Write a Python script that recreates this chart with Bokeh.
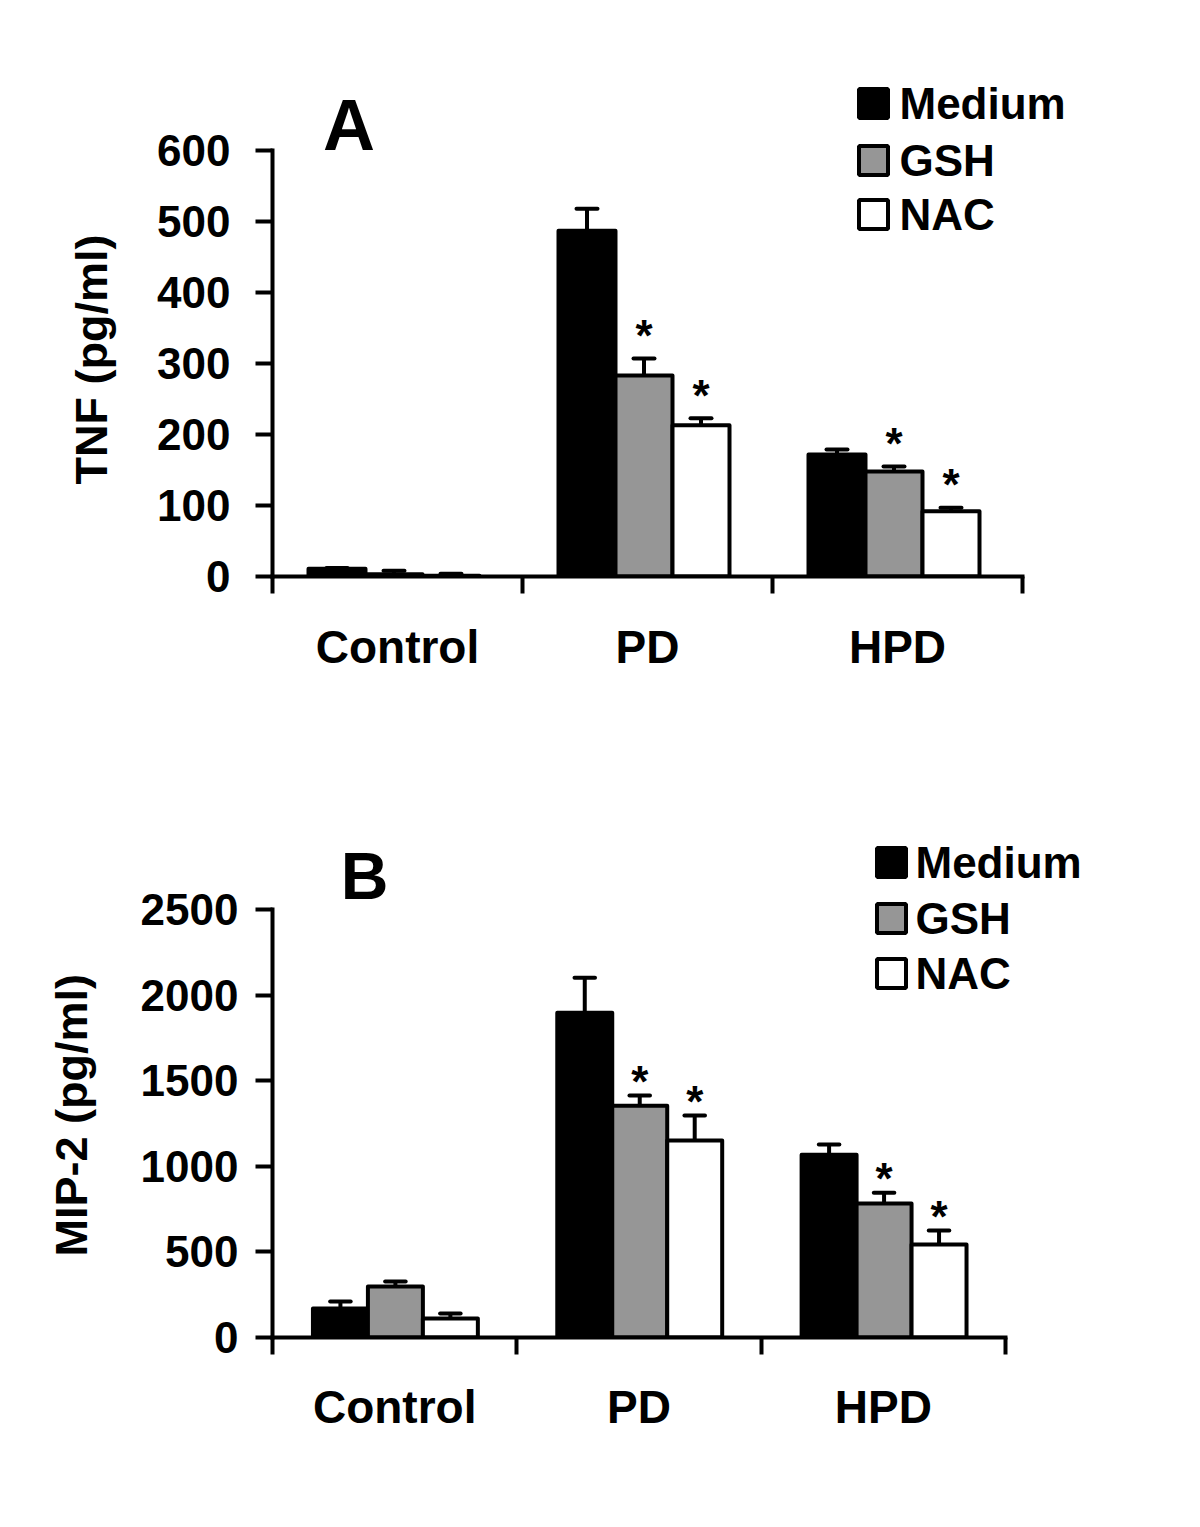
from bokeh.plotting import figure
from bokeh.layouts import column
from bokeh.models import FixedTicker, Range1d, Title
from bokeh.embed import file_html
from bokeh.resources import INLINE
from bokeh.core.properties import value

# ---------------- data ----------------
categories = ["Control", "PD", "HPD"]
series = ["Medium", "GSH", "NAC"]
colors = ["#000000", "#969696", "#ffffff"]

# Panel A: TNF (pg/ml)
tnf_medium = [11, 487, 172]
tnf_medium_err = [1, 31, 7]
tnf_gsh = [3, 283, 148]
tnf_gsh_err = [5, 24, 7]
tnf_nac = [1, 213, 92]
tnf_nac_err = [3, 10, 5]
tnf_gsh_sig = [False, True, True]
tnf_nac_sig = [False, True, True]
tnf_ticks = [0, 100, 200, 300, 400, 500, 600]

# Panel B: MIP-2 (pg/ml)
mip_medium = [169, 1897, 1068]
mip_medium_err = [41, 205, 59]
mip_gsh = [298, 1354, 782]
mip_gsh_err = [29, 59, 64]
mip_nac = [111, 1150, 543]
mip_nac_err = [29, 146, 82]
mip_gsh_sig = [False, True, True]
mip_nac_sig = [False, True, True]
mip_ticks = [0, 500, 1000, 1500, 2000, 2500]

FONT = value("Liberation Sans")


def make_panel(vals, errs, sigs, ticks, ylabel, letter, cfg):
    p = figure(frame_width=cfg["fw"], frame_height=cfg["fh"],
               x_range=Range1d(0, cfg["x_end"]), y_range=Range1d(0, cfg["y_end"]),
               output_backend="svg", toolbar_location=None,
               min_border_left=cfg["bl"], min_border_right=cfg["br"],
               min_border_top=cfg["bt"], min_border_bottom=cfg["bb"])
    p.grid.visible = False
    p.outline_line_color = None
    p.background_fill_color = "white"
    p.border_fill_color = "white"

    bw = cfg["bw"]
    cap = 0.042
    for j, (v, e, col) in enumerate(zip(vals, errs, colors)):
        xs = [i + cfg["gc"] + (j - 1) * bw for i in range(len(categories))]
        tops = [a + b for a, b in zip(v, e)]
        p.segment(x0=xs, y0=v, x1=xs, y1=tops, line_color="black", line_width=4)
        p.vbar(x=xs, bottom=0, top=v, width=bw, fill_color=col,
               line_color="black", line_width=4, line_join="round")
        p.segment(x0=[x - cap for x in xs], y0=tops, x1=[x + cap for x in xs], y1=tops,
                  line_color="black", line_width=4, line_cap="round")
        if sigs[j] is not None:
            sx = [x for x, s in zip(xs, sigs[j]) if s]
            sy = [t for t, s in zip(tops, sigs[j]) if s]
            p.text(x=sx, y=sy, text=["*"] * len(sx), text_align="center",
                   text_baseline="middle", y_offset=cfg["star_off"],
                   text_font=FONT, text_font_style="bold", text_font_size="44px",
                   text_color="black")

    # legend (manual squares + labels)
    p.rect(x=[cfg["lg_x"]] * 3, y=cfg["lg_y"], width=29, height=29,
           width_units="screen", height_units="screen",
           fill_color=colors, line_color="black", line_width=4)
    p.text(x=[cfg["lt_x"]] * 3, y=cfg["lg_y"], text=series, text_align="left",
           text_baseline="middle", text_font=FONT, text_font_style="bold",
           text_font_size="44px", text_color="black")

    # panel letter
    p.text(x=[cfg["let_x"]], y=[cfg["let_y"]], text=[letter], text_align="center",
           text_baseline="middle", text_font=FONT, text_font_style="bold",
           text_font_size=cfg["let_size"], text_color="black")

    # y axis
    ya = p.yaxis[0]
    ya.ticker = FixedTicker(ticks=ticks)
    ya.bounds = (0, ticks[-1])
    ya.axis_line_width = 4
    ya.axis_line_cap = "square"
    ya.major_tick_line_width = 4
    ya.major_tick_out = 17
    ya.major_tick_in = 0
    ya.minor_tick_line_color = None
    ya.major_label_text_font = "Liberation Sans"
    ya.major_label_text_font_style = "bold"
    ya.major_label_text_font_size = "44px"
    ya.major_label_text_color = "black"
    ya.major_label_standoff = cfg["ylab_so"]

    # y axis title (outside the axis, starting from the frame bottom + offset)
    p.add_layout(Title(text=ylabel, align="left", offset=cfg["yt_off"],
                       standoff=cfg["yt_so"], text_font="Liberation Sans",
                       text_font_style="bold", text_font_size="45px",
                       text_color="black"), "left")

    # x axis
    xa = p.xaxis[0]
    xa.ticker = FixedTicker(ticks=[i + 0.5 for i in range(len(categories))],
                            minor_ticks=list(range(len(categories) + 1)))
    xa.bounds = (0, len(categories))
    xa.major_label_overrides = {i + 0.5: c for i, c in enumerate(categories)}
    xa.axis_line_width = 4
    xa.axis_line_cap = "square"
    xa.major_tick_line_color = None
    xa.major_tick_out = 0
    xa.major_tick_in = 0
    xa.minor_tick_line_color = "black"
    xa.minor_tick_line_width = 4
    xa.minor_tick_out = 17
    xa.minor_tick_in = 0
    xa.major_label_text_font = "Liberation Sans"
    xa.major_label_text_font_style = "bold"
    xa.major_label_text_font_size = "46px"
    xa.major_label_text_color = "black"
    xa.major_label_standoff = cfg["xlab_so"]
    return p


# ---- layout (page pixel geometry -> data-space placement) ----
LEFT = 272
# panel A: axis 272..1022, zero at y=576, 600 at y=150
ax_px = (1022 - LEFT) / 3
ay_ppu = 426 / 600
A0 = 576
ax = lambda px: (px - LEFT) / ax_px
ay = lambda py: (A0 - py) / ay_ppu
cfgA = dict(fw=904, fh=528, x_end=904 / ax_px, y_end=528 / ay_ppu,
            bl=LEFT, br=8, bt=48, bb=176, gc=0.486, bw=0.228,
            star_off=-23, ylab_so=25, xlab_so=27,
            lg_x=ax(873), lt_x=ax(899), lg_y=[ay(103), ay(160), ay(214)],
            let_x=ax(348.5), let_y=ay(124), let_size="72px",
            yt_off=A0 - 484, yt_so=76)

# panel B: axis 272..1005, zero at y=1337, 2500 at y=909 (figure starts at 752)
bx_px = (1005 - LEFT) / 3
by_ppu = 428 / 2500
B0 = 1337
bx = lambda px: (px - LEFT) / bx_px
by = lambda py: (B0 - py) / by_ppu
cfgB = dict(fw=904, fh=507, x_end=904 / bx_px, y_end=507 / by_ppu,
            bl=LEFT, br=8, bt=78, bb=182, gc=0.503, bw=0.225,
            star_off=-14, ylab_so=17, xlab_so=26,
            lg_x=bx(891), lt_x=bx(915), lg_y=[by(862), by(918), by(973)],
            let_x=bx(364), let_y=by(875), let_size="66px",
            yt_off=B0 - 1256, yt_so=82)

pA = make_panel([tnf_medium, tnf_gsh, tnf_nac], [tnf_medium_err, tnf_gsh_err, tnf_nac_err],
                [None, tnf_gsh_sig, tnf_nac_sig], tnf_ticks, "TNF (pg/ml)", "A", cfgA)
pB = make_panel([mip_medium, mip_gsh, mip_nac], [mip_medium_err, mip_gsh_err, mip_nac_err],
                [None, mip_gsh_sig, mip_nac_sig], mip_ticks, "MIP-2 (pg/ml)", "B", cfgB)

layout = column(pA, pB, spacing=0)
open("out.html", "w").write(file_html(layout, INLINE))
